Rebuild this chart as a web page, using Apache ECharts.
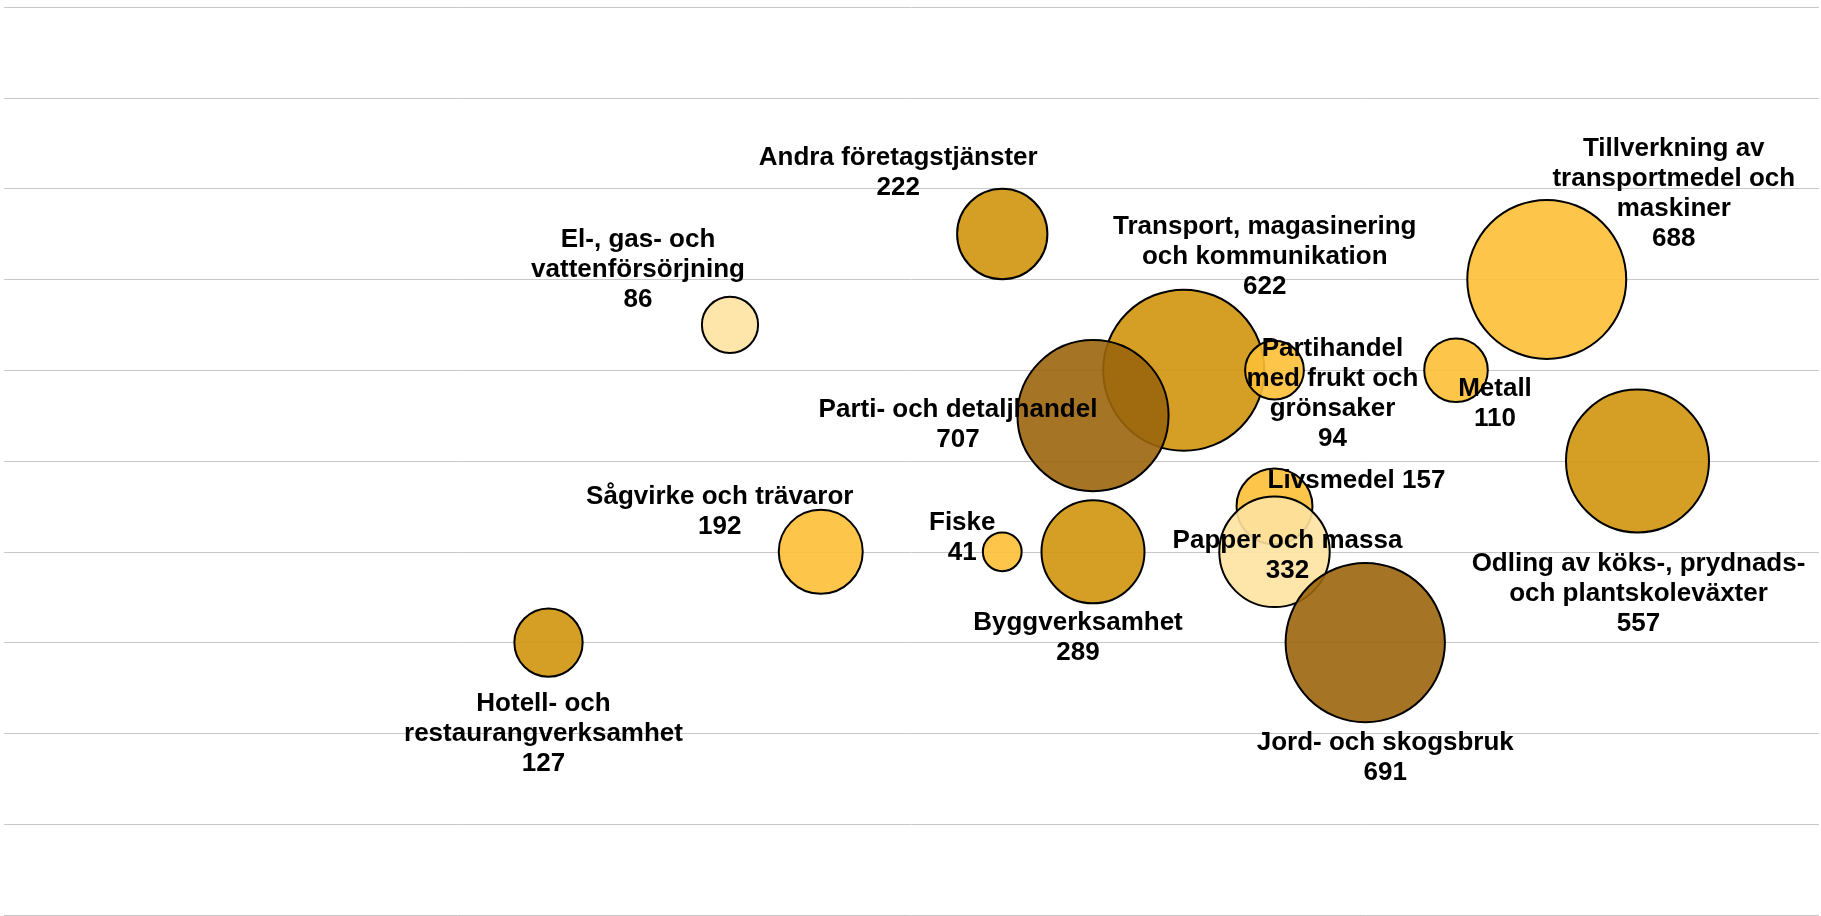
<!DOCTYPE html>
<html lang="sv">

<head>
    <meta charset="UTF-8">
    <title>Branscher</title>
    <style>
        html, body { margin: 0; padding: 0; background: #fff; }
        #chart { width: 1821px; height: 916px; }
    </style>
</head>
<script src="https://cdn.jsdelivr.net/npm/echarts/dist/echarts.min.js"></script>

<body>
    <div id="chart"></div>
</body>
<script>
    // branscher, i ritordning (senare ligger ovanpå)
    var names = [
        'Hotell- och\nrestaurangverksamhet',
        'El-, gas- och\nvattenförsörjning',
        'Sågvirke och trävaror',
        'Andra företagstjänster',
        'Fiske',
        'Byggverksamhet',
        'Transport, magasinering\noch kommunikation',
        'Parti- och detaljhandel',
        'Partihandel\nmed frukt och\ngrönsaker',
        'Metall',
        'Tillverkning av\ntransportmedel och\nmaskiner',
        'Odling av köks-, prydnads-\noch plantskoleväxter',
        'Livsmedel',
        'Papper och massa',
        'Jord- och skogsbruk'
    ];
    var xValues = [6, 8, 9, 11, 11, 12, 13, 12, 14, 16, 17, 18, 14, 14, 15];
    var yValues = [3, 6.5, 4, 7.5, 4, 4, 6, 5.5, 6, 6, 7, 5, 4.5, 4, 3];
    var values = [127, 86, 192, 222, 41, 289, 622, 707, 94, 110, 688, 557, 157, 332, 691];
    // bubblornas storlek som de syns i bilden
    var bubbleSize = [127, 86, 192, 222, 41, 289, 707, 622, 94, 110, 688, 557, 157, 332, 691];
    var groups = [2, 0, 1, 2, 1, 2, 2, 3, 1, 1, 1, 2, 1, 0, 3];

    var colors = ['rgba(254,226,161,0.9)', 'rgba(253,191,54,0.9)', 'rgba(207,149,12,0.9)', 'rgba(155,101,12,0.9)'];

    // etikettens förskjutning från bubblans mitt
    var labelOffsets = [
        [-5, 91], [-92, -55], [-101, -40], [-104, -61], [-40, -14],
        [-15, 86], [81, -113], [-135, 9], [58, 24], [39, 34],
        [127, -86], [1, 133], [82, -26], [13, 4], [20, 115]
    ];
    var oneLine = { 'Livsmedel': true };

    var mCharts = echarts.init(document.getElementById('chart'));

    var data = names.map(function (n, i) {
        return {
            name: n,
            value: [xValues[i], yValues[i], values[i], bubbleSize[i]],
            itemStyle: { color: colors[groups[i]] },
            label: { offset: labelOffsets[i] }
        };
    });

    var option = {
        animation: false,
        grid: { left: 4, right: 2, top: 7, bottom: 1 },
        xAxis: {
            type: 'value', min: 0, max: 20, show: false
        },
        yAxis: {
            type: 'value', min: 0, max: 10, interval: 1,
            axisLine: { show: false },
            axisTick: { show: false },
            axisLabel: { show: false },
            splitLine: { lineStyle: { color: '#c8c8c8', width: 1 } }
        },
        series: [{
            type: 'scatter',
            data: data,
            symbolSize: function (v) { return 6.06 * Math.sqrt(v[3]); },
            itemStyle: { borderColor: '#000', borderWidth: 2, opacity: 1 },
            label: {
                show: true,
                position: 'inside',
                color: '#000',
                fontFamily: '"Liberation Sans", Arial, sans-serif',
                fontWeight: 'bold',
                fontSize: 26,
                lineHeight: 30,
                align: 'center',
                verticalAlign: 'middle',
                formatter: function (p) {
                    return p.name + (oneLine[p.name] ? ' ' : '\n') + p.value[2];
                }
            },
            emphasis: { disabled: true }
        }]
    };
    mCharts.setOption(option);
</script>

</html>
